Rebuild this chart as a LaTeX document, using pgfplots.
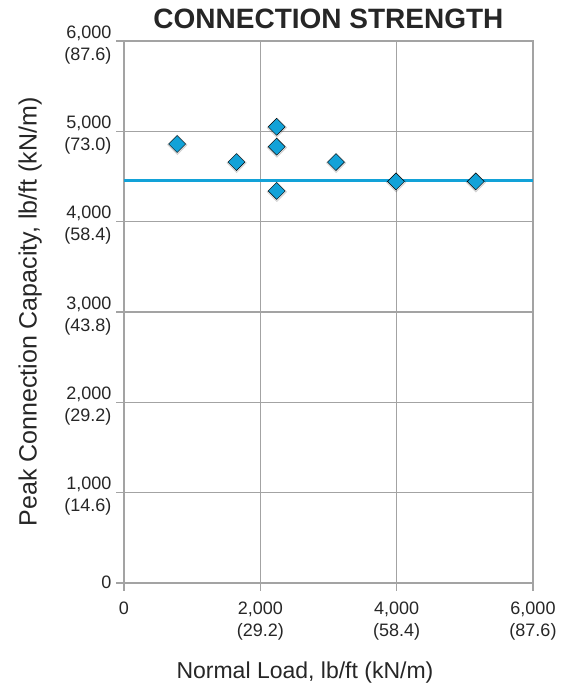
\documentclass[border=0pt]{standalone}
\usepackage{fontspec}
\setmainfont{Liberation Sans}
\usepackage{pgfplots}
\pgfplotsset{compat=1.18}
\definecolor{cblue}{HTML}{12A2D8}
\definecolor{gridgray}{HTML}{A3A3A3}
\newcommand{\tl}[2]{\begin{tabular}[t]{@{}r@{}}#1\\#2\end{tabular}}
\newcommand{\tc}[2]{\begin{tabular}[t]{@{}c@{}}#1\\#2\end{tabular}}
\begin{document}
\begin{tikzpicture}
\begin{axis}[
  scale only axis,
  width=409pt, height=542pt,
  xmin=0, xmax=6000, ymin=0, ymax=6000,
  xtick={0,2000,4000,6000},
  ytick={0,1000,2000,3000,4000,5000,6000},
  xticklabels={0,\tc{2,000}{(29.2)},\tc{4,000}{(58.4)},\tc{6,000}{(87.6)}},
  yticklabels={\raisebox{-8pt}{0},\tl{1,000}{(14.6)},\tl{2,000}{(29.2)},\tl{3,000}{(43.8)},\tl{4,000}{(58.4)},\tl{5,000}{(73.0)},\tl{6,000}{(87.6)}},
  tick align=outside,
  major tick length=7.5pt,
  tick style={gridgray, line width=1.2pt},
  axis line style={gridgray, line width=1.2pt},
  grid=major,
  major grid style={gridgray, line width=1.2pt},
  xtick pos=bottom, ytick pos=left,
  ticklabel style={font=\fontsize{18}{22}\selectfont, text=black!85},
  xticklabel style={anchor=base, inner sep=0pt, yshift=-24pt},
  yticklabel style={anchor=base east, inner sep=0pt, xshift=-5pt, yshift=3pt},
  every axis title shift=0pt,
  title={CONNECTION STRENGTH},
  title style={font=\fontsize{28}{32}\selectfont\bfseries, text=black!85, at={(rel axis cs:0.5,1.0234)}, anchor=base, inner sep=0pt},
  xlabel={Normal Load, lb/ft (kN/m)},
  xlabel style={font=\fontsize{23}{26}\selectfont, text=black!85, at={(rel axis cs:0.4425,-0.1758)}, anchor=base, inner sep=0pt},
  ylabel={Peak Connection Capacity, lb/ft (kN/m)},
  ylabel style={font=\fontsize{25}{28}\selectfont, text=black!85, at={(rel axis cs:-0.2134,0.5)}, anchor=base, inner sep=0pt},
  clip=false,
]
\addplot[cblue, line width=3pt] coordinates {(0,4460) (6000,4460)};
\addplot[only marks, mark=square*, mark size=7pt, mark options={rotate=45, fill=black, draw=none, opacity=0.13, xshift=-0.5pt, yshift=-0.7pt}] coordinates {
(780,4860) (1650,4660) (2240,5050) (2240,4830) (2240,4340) (3110,4660) (3990,4445) (5160,4445)};
\addplot[only marks, mark=square*, mark size=6pt, mark options={rotate=45, fill=cblue, draw=none}] coordinates {
(780,4860) (1650,4660) (2240,5050) (2240,4830) (2240,4340) (3110,4660) (3990,4445) (5160,4445)};
\end{axis}
\pgfresetboundingbox
\path[use as bounding box] (-124pt,-103pt) rectangle (445pt,583pt);
\end{tikzpicture}
\end{document}
